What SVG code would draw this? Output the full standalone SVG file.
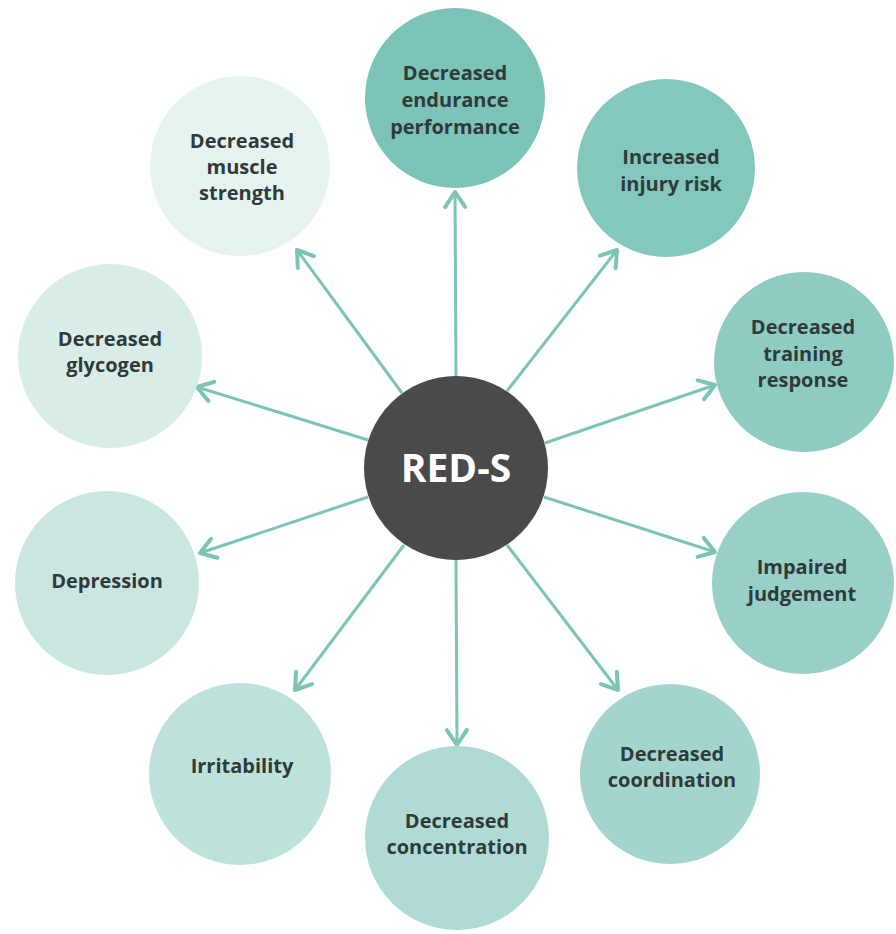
<svg xmlns="http://www.w3.org/2000/svg" width="896" height="934" viewBox="0 0 896 934">
  <defs>
    <style>
      .lbl { font-family: "Open Sans", "Noto Sans", "DejaVu Sans", sans-serif; font-weight: 700; font-size: 20px; fill: #2f3a3a; text-anchor: middle; }
      .hub { font-family: "Open Sans", "Noto Sans", "DejaVu Sans", sans-serif; font-weight: 700; font-size: 39px; fill: #ffffff; text-anchor: middle; }
      .link { stroke: #7cc4b6; stroke-width: 3; fill: none; marker-end: url(#head); }
    </style>
    <marker id="head" markerUnits="userSpaceOnUse" markerWidth="30" markerHeight="30" viewBox="-20 -15 30 30" refX="0" refY="0" orient="auto">
      <path d="M-15,-10 L0,0 L-15,10" fill="none" stroke="#7cc4b6" stroke-width="4" stroke-linecap="round" stroke-linejoin="round"/>
    </marker>
  </defs>
  <rect width="896" height="934" fill="#ffffff"/>

  <!-- spokes from the hub to each effect -->
  <g id="connectors">
    <line class="link" x1="456" y1="376" x2="455" y2="192"/>
    <line class="link" x1="507" y1="391" x2="617" y2="250"/>
    <line class="link" x1="545" y1="443" x2="715" y2="385"/>
    <line class="link" x1="544" y1="497" x2="715" y2="552"/>
    <line class="link" x1="507" y1="545" x2="618" y2="690"/>
    <line class="link" x1="456" y1="560" x2="457" y2="745"/>
    <line class="link" x1="404" y1="545" x2="295" y2="690"/>
    <line class="link" x1="368" y1="497" x2="200" y2="553"/>
    <line class="link" x1="368" y1="440" x2="197" y2="387"/>
    <line class="link" x1="402" y1="393" x2="297" y2="250"/>
  </g>

  <g id="node-endurance">
    <circle cx="455" cy="98" r="90" fill="#7cc3b8"/>
    <text class="lbl" x="455" y="80">Decreased</text>
    <text class="lbl" x="455" y="107">endurance</text>
    <text class="lbl" x="455" y="134">performance</text>
  </g>
  <g id="node-injury">
    <circle cx="666" cy="168" r="89" fill="#84c7bc"/>
    <text class="lbl" x="671" y="164">Increased</text>
    <text class="lbl" x="671" y="191">injury risk</text>
  </g>
  <g id="node-training">
    <circle cx="804" cy="362" r="90" fill="#8ecbc1"/>
    <text class="lbl" x="803" y="334">Decreased</text>
    <text class="lbl" x="803" y="361">training</text>
    <text class="lbl" x="803" y="387">response</text>
  </g>
  <g id="node-judgement">
    <circle cx="803" cy="583" r="91" fill="#98cfc6"/>
    <text class="lbl" x="802" y="574">Impaired</text>
    <text class="lbl" x="802" y="601">judgement</text>
  </g>
  <g id="node-coordination">
    <circle cx="670" cy="774" r="90" fill="#a3d5cd"/>
    <text class="lbl" x="672" y="761">Decreased</text>
    <text class="lbl" x="672" y="787">coordination</text>
  </g>
  <g id="node-concentration">
    <circle cx="457" cy="838" r="92" fill="#b0dbd4"/>
    <text class="lbl" x="457" y="828">Decreased</text>
    <text class="lbl" x="457" y="854">concentration</text>
  </g>
  <g id="node-irritability">
    <circle cx="240" cy="774" r="91" fill="#bee1db"/>
    <text class="lbl" x="242" y="773">Irritability</text>
  </g>
  <g id="node-depression">
    <circle cx="107" cy="583" r="92" fill="#cae6e1"/>
    <text class="lbl" x="107" y="588">Depression</text>
  </g>
  <g id="node-glycogen">
    <circle cx="110" cy="356" r="92" fill="#d8ece8"/>
    <text class="lbl" x="110" y="346">Decreased</text>
    <text class="lbl" x="110" y="372">glycogen</text>
  </g>
  <g id="node-muscle">
    <circle cx="240" cy="166" r="90" fill="#e7f3f1"/>
    <text class="lbl" x="242" y="148">Decreased</text>
    <text class="lbl" x="242" y="174">muscle</text>
    <text class="lbl" x="242" y="200">strength</text>
  </g>

  <g id="node-reds">
    <circle cx="456" cy="468" r="92" fill="#4a4a4b"/>
    <text class="hub" x="456" y="482">RED-S</text>
  </g>
</svg>
